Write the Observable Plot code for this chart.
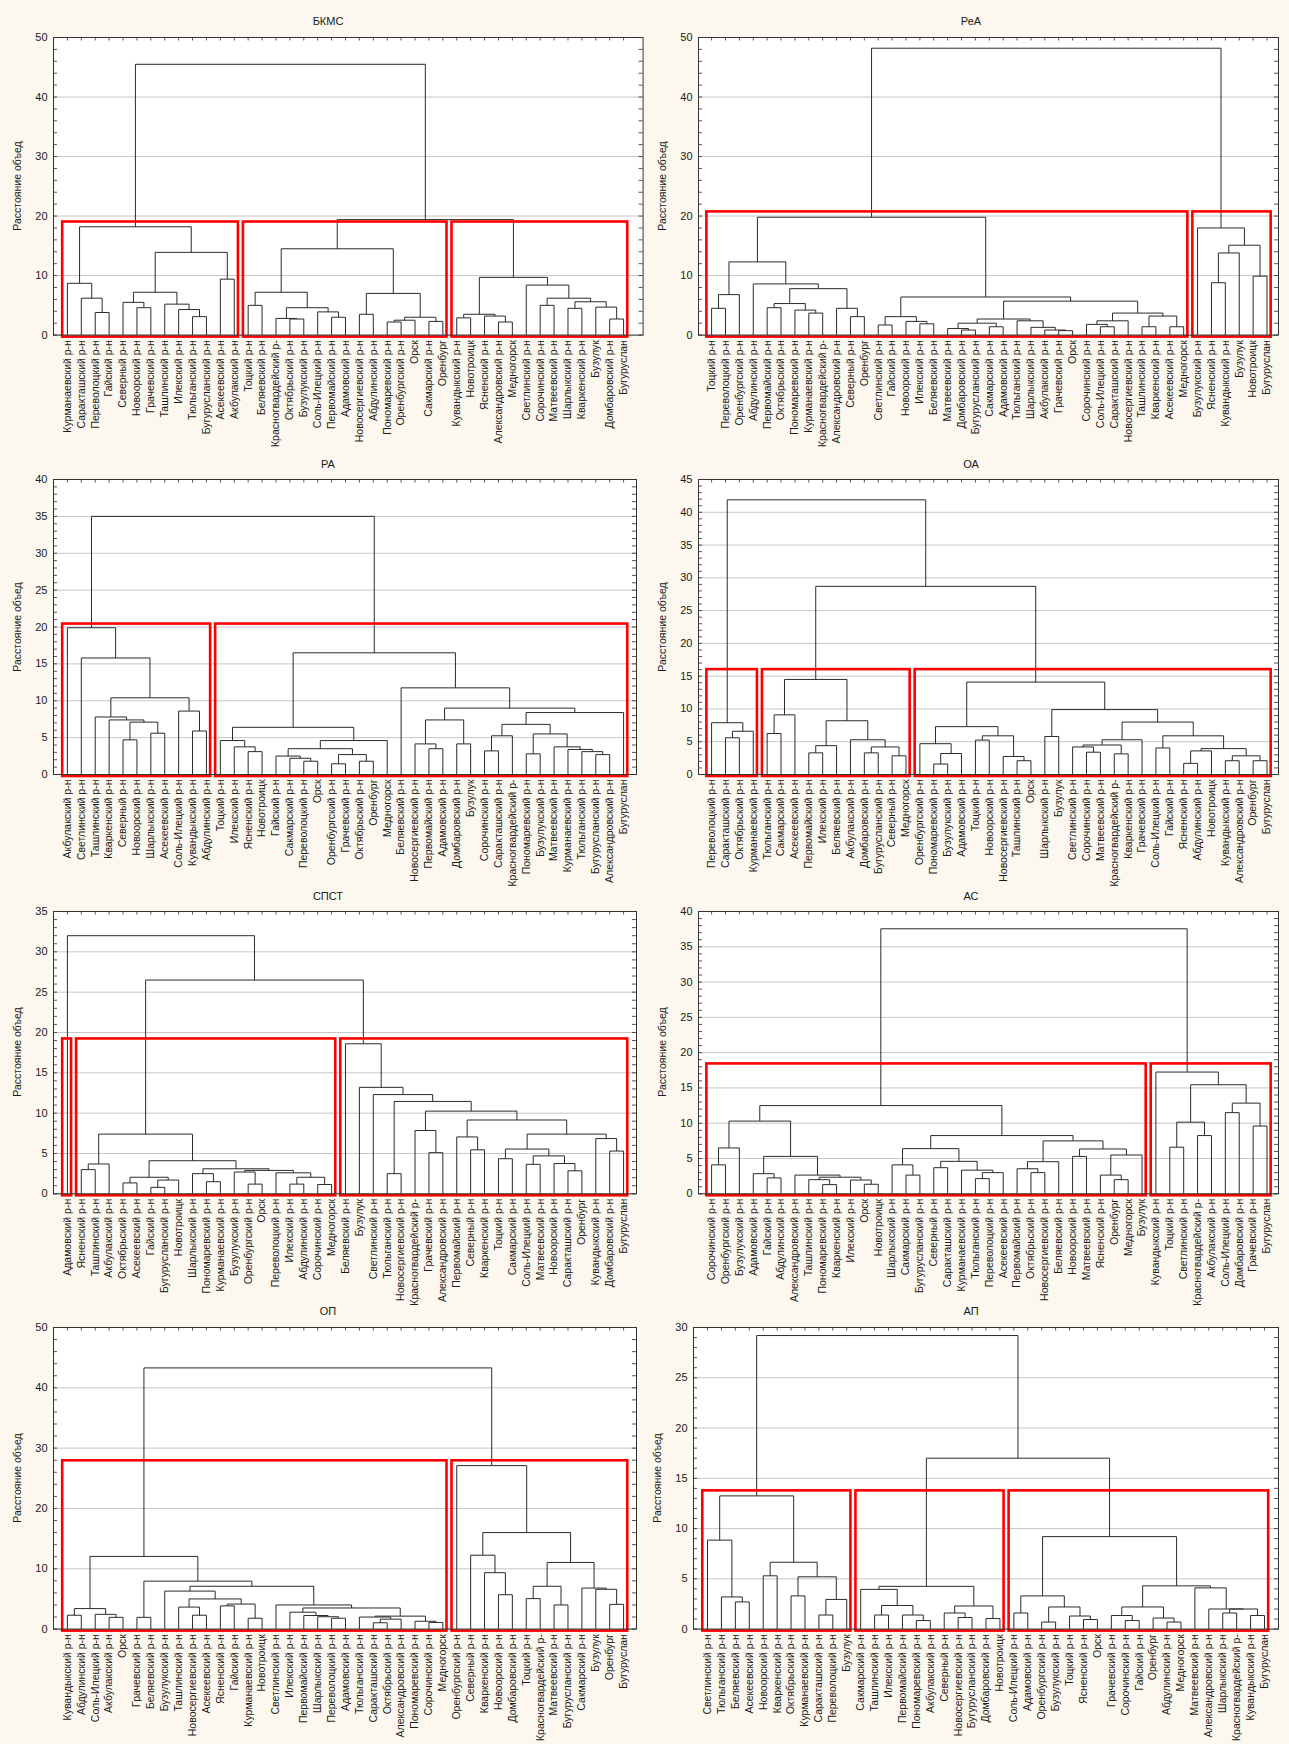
<!DOCTYPE html>
<html><head><meta charset="utf-8">
<script src="https://cdn.jsdelivr.net/npm/d3@7"></script>
<script src="https://cdn.jsdelivr.net/npm/@observablehq/plot@0.6"></script>
<style>
html,body{margin:0;padding:0;background:#fcf8ef;}
#page{position:relative;width:1289px;height:1744px;overflow:hidden;font-family:"Liberation Sans",Arial,sans-serif;color:#1a1a1a;}
.title{position:absolute;font-size:11px;transform:translate(-50%,-50%);white-space:nowrap;}
.ylab{position:absolute;font-size:10.5px;transform:translate(-50%,-50%) rotate(-90deg);white-space:nowrap;}
.panel{position:absolute;}
.panel svg{overflow:visible;}
</style></head><body><div id="page"></div>
<script>
// ---------------- DATA ----------------
const titles = ["БКМС","РеА","РА","ОА","СПСТ","АС","ОП","АП"];
const yMaxes = [50,50,40,45,35,40,50,30];
const ySteps = [10,10,5,5,5,5,10,5];
const yLabel = "Расстояние объед";

// leaf orders (left to right)
const order1 = ["Курманаевский р-н","Саракташский р-н","Переволоцкий р-н","Гайский р-н","Северный р-н","Новоорский р-н","Грачевский р-н","Ташлинский р-н","Илекский р-н","Тюльганский р-н","Бугурусланский р-н","Асекеевский р-н","Акбулакский р-н","Тоцкий р-н","Беляевский р-н","Красногвардейский р-","Октябрьский р-н","Бузулукский р-н","Соль-Илецкий р-н","Первомайский р-н","Адамовский р-н","Новосергиевский р-н","Абдулинский р-н","Пономаревский р-н","Оренбургский р-н","Орск","Сакмарский р-н","Оренбург","Кувандыкский р-н","Новотроицк","Ясненский р-н","Александровский р-н","Медногорск","Светлинский р-н","Сорочинский р-н","Матвеевский р-н","Шарлыкский р-н","Кваркенский р-н","Бузулук","Домбаровский р-н","Бугуруслан"];
const order2 = ["Тоцкий р-н","Переволоцкий р-н","Оренбургский р-н","Абдулинский р-н","Первомайский р-н","Октябрьский р-н","Пономаревский р-н","Курманаевский р-н","Красногвардейский р-","Александровский р-н","Северный р-н","Оренбург","Светлинский р-н","Гайский р-н","Новоорский р-н","Илекский р-н","Беляевский р-н","Матвеевский р-н","Домбаровский р-н","Бугурусланский р-н","Сакмарский р-н","Адамовский р-н","Тюльганский р-н","Шарлыкский р-н","Акбулакский р-н","Грачевский р-н","Орск","Сорочинский р-н","Соль-Илецкий р-н","Саракташский р-н","Новосергиевский р-н","Ташлинский р-н","Кваркенский р-н","Асекеевский р-н","Медногорск","Бузулукский р-н","Ясненский р-н","Кувандыкский р-н","Бузулук","Новотроицк","Бугуруслан"];
const order3 = ["Акбулакский р-н","Светлинский р-н","Ташлинский р-н","Кваркенский р-н","Северный р-н","Новоорский р-н","Шарлыкский р-н","Асекеевский р-н","Соль-Илецкий р-н","Кувандыкский р-н","Абдулинский р-н","Тоцкий р-н","Илекский р-н","Ясненский р-н","Новотроицк","Гайский р-н","Сакмарский р-н","Переволоцкий р-н","Орск","Оренбургский р-н","Грачевский р-н","Октябрьский р-н","Оренбург","Медногорск","Беляевский р-н","Новосергиевский р-н","Первомайский р-н","Адамовский р-н","Домбаровский р-н","Бузулук","Сорочинский р-н","Саракташский р-н","Красногвардейский р-","Пономаревский р-н","Бузулукский р-н","Матвеевский р-н","Курманаевский р-н","Тюльганский р-н","Бугурусланский р-н","Александровский р-н","Бугуруслан"];
const order4 = ["Переволоцкий р-н","Саракташский р-н","Октябрьский р-н","Курманаевский р-н","Тюльганский р-н","Сакмарский р-н","Асекеевский р-н","Первомайский р-н","Илекский р-н","Беляевский р-н","Акбулакский р-н","Домбаровский р-н","Бугурусланский р-н","Северный р-н","Медногорск","Оренбургский р-н","Пономаревский р-н","Бузулукский р-н","Адамовский р-н","Тоцкий р-н","Новоорский р-н","Новосергиевский р-н","Ташлинский р-н","Орск","Шарлыкский р-н","Бузулук","Светлинский р-н","Сорочинский р-н","Матвеевский р-н","Красногвардейский р-","Кваркенский р-н","Грачевский р-н","Соль-Илецкий р-н","Гайский р-н","Ясненский р-н","Абдулинский р-н","Новотроицк","Кувандыкский р-н","Александровский р-н","Оренбург","Бугуруслан"];
const order5 = ["Адамовский р-н","Ясненский р-н","Ташлинский р-н","Акбулакский р-н","Октябрьский р-н","Асекеевский р-н","Гайский р-н","Бугурусланский р-н","Новотроицк","Шарлыкский р-н","Пономаревский р-н","Курманаевский р-н","Бузулукский р-н","Оренбургский р-н","Орск","Переволоцкий р-н","Илекский р-н","Абдулинский р-н","Сорочинский р-н","Медногорск","Беляевский р-н","Бузулук","Светлинский р-н","Тюльганский р-н","Новосергиевский р-н","Красногвардейский р-","Грачевский р-н","Александровский р-н","Первомайский р-н","Северный р-н","Кваркенский р-н","Тоцкий р-н","Сакмарский р-н","Соль-Илецкий р-н","Матвеевский р-н","Новоорский р-н","Саракташский р-н","Оренбург","Кувандыкский р-н","Домбаровский р-н","Бугуруслан"];
const order6 = ["Сорочинский р-н","Оренбургский р-н","Бузулукский р-н","Адамовский р-н","Гайский р-н","Абдулинский р-н","Александровский р-н","Ташлинский р-н","Пономаревский р-н","Кваркенский р-н","Илекский р-н","Орск","Новотроицк","Шарлыкский р-н","Сакмарский р-н","Бугурусланский р-н","Северный р-н","Саракташский р-н","Курманаевский р-н","Тюльганский р-н","Переволоцкий р-н","Асекеевский р-н","Первомайский р-н","Октябрьский р-н","Новосергиевский р-н","Беляевский р-н","Новоорский р-н","Матвеевский р-н","Ясненский р-н","Оренбург","Медногорск","Бузулук","Кувандыкский р-н","Тоцкий р-н","Светлинский р-н","Красногвардейский р-","Акбулакский р-н","Соль-Илецкий р-н","Домбаровский р-н","Грачевский р-н","Бугуруслан"];
const order7 = ["Кувандыкский р-н","Абдулинский р-н","Соль-Илецкий р-н","Акбулакский р-н","Орск","Грачевский р-н","Беляевский р-н","Бузулукский р-н","Ташлинский р-н","Новосергиевский р-н","Асекеевский р-н","Ясненский р-н","Гайский р-н","Курманаевский р-н","Новотроицк","Светлинский р-н","Илекский р-н","Первомайский р-н","Шарлыкский р-н","Переволоцкий р-н","Адамовский р-н","Тюльганский р-н","Саракташский р-н","Октябрьский р-н","Александровский р-н","Пономаревский р-н","Сорочинский р-н","Медногорск","Оренбургский р-н","Северный р-н","Кваркенский р-н","Новоорский р-н","Домбаровский р-н","Тоцкий р-н","Красногвардейский р-","Матвеевский р-н","Бугурусланский р-н","Сакмарский р-н","Бузулук","Оренбург","Бугуруслан"];
const order8 = ["Светлинский р-н","Тюльганский р-н","Беляевский р-н","Асекеевский р-н","Новоорский р-н","Кваркенский р-н","Октябрьский р-н","Курманаевский р-н","Саракташский р-н","Переволоцкий р-н","Бузулук","Сакмарский р-н","Ташлинский р-н","Илекский р-н","Первомайский р-н","Пономаревский р-н","Акбулакский р-н","Северный р-н","Новосергиевский р-н","Бугурусланский р-н","Домбаровский р-н","Новотроицк","Соль-Илецкий р-н","Адамовский р-н","Оренбургский р-н","Бузулукский р-н","Тоцкий р-н","Ясненский р-н","Орск","Грачевский р-н","Сорочинский р-н","Гайский р-н","Оренбург","Абдулинский р-н","Медногорск","Матвеевский р-н","Александровский р-н","Шарлыкский р-н","Красногвардейский р-","Кувандыкский р-н","Бугуруслан"];

// trees: [linkage distance, left, right]; numbers are leaf positions in the order above
const tree1 = [45.5,
  [18.2, [8.7, 0, [6.2, 1, [3.8, 2, 3]]], [13.9, [7.2, [5.5, 4, [4.6, 5, 6]], [5.2, 7, [4.3, 8, [3.1, 9, 10]]]], [9.4, 11, 12]]],
  [19.4,
    [14.5, [7.2, [5.0, 13, 14], [4.6, [2.8, 15, [2.7, 16, 17]], [3.9, 18, [3.0, 19, 20]]]], [7.0, [3.5, 21, 22], [3.0, [2.5, [2.2, 23, 24], 25], [2.3, 26, 27]]]],
    [9.7, [3.5, [2.9, 28, 29], [3.2, 30, [2.2, 31, 32]]], [8.4, 33, [6.2, [5.0, 34, 35], [5.6, [4.5, 36, 37], [4.7, 38, [2.7, 39, 40]]]]]]]];
const tree2 = [48.2,
  [19.8,
    [12.3, [6.8, [4.5, 0, 1], 2], [8.6, 3, [7.8, [5.3, [4.6, 4, 5], [4.2, 6, [3.7, 7, 8]]], [4.5, 9, [3.1, 10, 11]]]]],
    [6.4, [3.1, [1.7, 12, 13], [2.3, 14, [1.9, 15, 16]]],
      [5.7, [2.7, [2.0, [1.1, 17, [0.85, 18, 19]], [1.4, 20, 21]], [2.4, 22, [1.3, 23, [0.85, 24, [0.75, 25, 26]]]]],
        [3.7, [2.4, [1.8, 27, [1.4, 28, 29]], 30], [3.2, [1.4, 31, 32], [1.4, 33, 34]]]]]],
  [18.0, 35, [15.1, [13.8, [8.8, 36, 37], 38], [9.9, 39, 40]]]];
const tree3 = [35.0,
  [19.9, 0, [15.8, 1, [10.4, [7.8, 2, [7.4, 3, [7.1, [4.7, 4, 5], [5.6, 6, 7]]]], [8.6, 8, [5.9, 9, 10]]]]],
  [16.5,
    [6.4, [4.6, 11, [3.75, 12, [3.1, 13, 14]]], [4.6, [3.5, [2.5, 15, [2.2, 16, [1.8, 17, 18]]], [2.7, [1.45, 19, 20], [1.8, 21, 22]]], 23]],
    [11.75, 24, [9.0, [7.4, [4.15, 25, [3.5, 26, 27]], [4.15, 28, 29]],
      [8.4, [6.8, [5.25, [3.2, 30, 31], 32], [5.5, [2.8, 33, 34], [3.75, 35, [3.4, 36, [3.1, 37, [2.7, 38, 39]]]]]], 40]]]]];
const tree4 = [41.9,
  [7.9, 0, [6.6, [5.6, 1, 2], 3]],
  [28.7,
    [14.5, [9.1, [6.25, 4, 5], 6], [8.2, [4.4, [3.3, 7, 8], 9], [5.3, 10, [4.2, [3.3, 11, 12], [2.85, 13, 14]]]]],
    [14.1,
      [7.3, [4.7, 15, [3.2, [1.6, 16, 17], 18]], [5.9, [5.25, 19, 20], [2.75, 21, [2.1, 22, 23]]]],
      [9.9, [5.8, 24, 25], [8.0, [5.3, [4.5, [4.2, 26, [3.4, 27, 28]], [3.15, 29, 30]], 31],
        [5.9, [4.05, 32, 33], [3.95, [3.6, [1.7, 34, 35], 36], [2.85, [2.1, 37, 38], [2.1, 39, 40]]]]]]]]];
const tree5 = [32.0, 0,
  [26.5,
    [7.4, [3.7, [3.0, 1, 2], 3], [4.1, [2.05, [1.35, 4, 5], [1.7, [0.8, 6, 7], 8]],
      [3.1, [2.5, 9, [1.5, 10, 11]], [2.9, [2.7, 12, [1.2, 13, 14]], [2.6, 15, [2.05, [1.2, 16, 17], [1.15, 18, 19]]]]]]],
    [18.6, 20, [13.2, 21, [12.3, 22, [11.45, [2.5, 23, 24],
      [10.25, [7.85, 25, [5.1, 26, 27]], [9.15, [7.05, 28, [5.45, 29, 30]],
        [7.4, [5.55, [4.35, 31, 32], [4.7, [3.65, 33, 34], [3.75, 35, [2.85, 36, 37]]]], [6.85, 38, [5.3, 39, 40]]]]]]]]]]];
const tree6 = [37.55,
  [12.5,
    [10.3, [6.5, [4.1, 0, 1], 2], [5.3, [2.85, 3, [2.25, 4, 5]], [2.65, 6, [2.35, [2.0, 7, [1.3, 8, 9]], [1.95, 10, [1.35, 11, 12]]]]]],
    [8.25,
      [6.4, [4.1, 13, [2.65, 14, 15]], [4.6, [3.7, 16, 17], [3.35, 18, [3.0, [2.15, 19, 20], 21]]]],
      [7.5, [4.55, [3.55, 22, [3.0, 23, 24]], 25], [6.35, [5.3, 26, 27], [5.5, [2.65, 28, [2.0, 29, 30]], 31]]]]],
  [17.25, 32, [15.45, [10.15, [6.6, 33, 34], [8.25, 35, 36]], [12.85, [11.5, 37, 38], [9.6, 39, 40]]]]];
const tree7 = [43.3,
  [12.05,
    [3.4, [2.3, 0, 1], [2.45, 2, [1.95, 3, 4]]],
    [7.95, [1.95, 5, 6],
      [7.1, [6.3, 7, [5.0, [3.65, 8, [2.3, 9, 10]], [4.15, [3.85, 11, 12], [1.8, 13, 14]]]],
        [4.0, 15, [3.5, [2.8, 16, [2.25, 17, [2.05, 18, [1.8, 19, 20]]]],
          [2.15, [2.0, 21, [1.65, [1.05, 22, 23], 24]], [1.3, 25, [1.1, 26, 27]]]]]]]],
  [27.1, 28, [16.0, [12.25, 29, [9.35, 30, [5.7, 31, 32]]], [11.05, [7.1, [5.05, 33, 34], [4.0, 35, 36]], [6.8, 37, [6.6, 38, [4.1, 39, 40]]]]]]];
const tree8 = [29.2,
  [13.25, [8.85, 0, [3.2, 1, [2.7, 2, 3]]], [6.65, [5.3, 4, 5], [5.2, [3.3, 6, 7], [2.95, [1.4, 8, 9], 10]]]],
  [17.0,
    [4.25, [3.95, 11, [2.35, [1.4, 12, 13], [1.4, 14, [0.85, 15, 16]]]], [2.3, [1.6, 17, [1.15, 18, 19]], [1.05, 20, 21]]],
    [9.2, [3.3, [1.6, 22, 23], [2.2, [0.7, 24, 25], [1.3, 26, [0.95, 27, 28]]]],
      [4.3, [2.2, [1.35, 29, [0.85, 30, 31]], [1.1, 32, [0.7, 33, 34]]], [4.1, 35, [2.0, 36, [2.0, [1.6, 37, 38], [1.35, 39, 40]]]]]]]];

// highlighted clusters: [first leaf, last leaf, cut distance]
const clusters1 = [[0,12,19.0],[13,27,19.0],[28,40,19.0]];
const clusters2 = [[0,34,20.7],[35,40,20.7]];
const clusters3 = [[0,10,20.4],[11,40,20.4]];
const clusters4 = [[0,3,16.0],[4,14,16.0],[15,40,16.0]];
const clusters5 = [[0,0,19.2],[1,19,19.2],[20,40,19.2]];
const clusters6 = [[0,31,18.4],[32,40,18.4]];
const clusters7 = [[0,27,27.9],[28,40,27.9]];
const clusters8 = [[0,10,13.75],[11,21,13.75],[22,40,13.75]];

const orders = [order1,order2,order3,order4,order5,order6,order7,order8];
const trees = [tree1,tree2,tree3,tree4,tree5,tree6,tree7,tree8];
const clusterSets = [clusters1,clusters2,clusters3,clusters4,clusters5,clusters6,clusters7,clusters8];

// ---------------- LAYOUT ----------------
const ROW_FT = [36.7, 479, 911, 1326.7];
const ROW_FB = [334.3, 774, 1193.3, 1628.3];
const ROW_TT = [20.7, 464, 896, 1311];
const COLS = [
  {left:0, width:645, fl:53, fr:636, l0:66.9, l40:623.1, tx:328, yl:16.5},
  {left:645, width:644, fl:698, fr:1278, l0:711.1, l40:1266.5, tx:971, yl:661.5}
];
const OVERRIDES = {0: {fr:642.6}, 7: {fl:693, l0:707, l40:1264, yl:657}};
const LINE = "#2a2a2a", GRID = "#c6c6c6", RED = "#ff0000";
const page = document.getElementById("page");

function segmentsOf(tree) {
  const segs = [];
  (function walk(n) {
    if (typeof n === "number") return {x: n, y: 0};
    const [h, a, b] = n;
    const A = walk(a), B = walk(b);
    segs.push({x1: A.x, y1: A.y, x2: A.x, y2: h});
    segs.push({x1: B.x, y1: B.y, x2: B.x, y2: h});
    segs.push({x1: A.x, y1: h, x2: B.x, y2: h});
    return {x: (A.x + B.x) / 2, y: h};
  })(tree);
  return segs;
}

titles.forEach((title, i) => {
  const row = Math.floor(i / 2), col = i % 2;
  const C = Object.assign({}, COLS[col], OVERRIDES[i] || {});
  const FT = ROW_FT[row], FB = ROW_FB[row];
  const plotH = FB - FT;
  const sp = (C.l40 - C.l0) / 40;
  const xd = [(C.fl - C.l0) / sp, (C.fr - C.l0) / sp];
  const yMax = yMaxes[i], step = ySteps[i];
  const yPx = yMax / plotH, xPx = 1 / sp;
  const majors = d3.range(0, yMax + 1e-9, step);
  const minors = d3.range(0, yMax + 1e-9, step === 10 ? 2 : 1);
  const order = orders[i];
  const segs = segmentsOf(trees[i]);
  const leaves = d3.range(order.length);
  const mt = 8, mb = 112;

  const svg = Plot.plot({
    width: C.width, height: mt + plotH + mb,
    marginLeft: C.fl - C.left, marginRight: C.left + C.width - C.fr,
    marginTop: mt, marginBottom: mb,
    x: {domain: xd}, y: {domain: [0, yMax]},
    style: {background: "transparent", fontFamily: "'Liberation Sans', Arial, sans-serif", color: "#1a1a1a", overflow: "visible"},
    marks: [
      Plot.frame({fill: "white", stroke: null}),
      Plot.gridY(majors, {stroke: GRID, strokeOpacity: 1, strokeWidth: 1}),
      Plot.ruleY(minors, {y: d => d, x1: xd[0], x2: xd[0] + 4 * xPx, stroke: LINE, strokeWidth: 0.8}),
      Plot.ruleY(minors, {y: d => d, x1: xd[1], x2: xd[1] - 4 * xPx, stroke: LINE, strokeWidth: 0.8}),
      Plot.ruleX(leaves, {x: d => d, y1: yMax, y2: yMax - 3.5 * yPx, stroke: LINE, strokeWidth: 0.8}),
      Plot.link(segs, {x1: "x1", y1: "y1", x2: "x2", y2: "y2", stroke: LINE, strokeWidth: 1}),
      Plot.rect(clusterSets[i], {x1: d => d[0] - 0.34, x2: d => d[1] + 0.3, y1: -2 * yPx, y2: d => d[2],
        fill: "none", stroke: RED, strokeWidth: 2.6}),
      Plot.frame({stroke: "#333", strokeWidth: 1}),
      Plot.axisY(majors, {tickSize: 0, tickPadding: 6, fontSize: 11, label: null}),
      Plot.axisX(leaves, {tickFormat: d => order[d], tickRotate: -90, tickSize: 0, tickPadding: 5, fontSize: 10.5, label: null})
    ]
  });
  const holder = document.createElement("div");
  holder.className = "panel";
  holder.style.left = C.left + "px";
  holder.style.top = (FT - mt) + "px";
  holder.style.width = C.width + "px";
  holder.appendChild(svg);
  page.appendChild(holder);

  const t = document.createElement("div");
  t.className = "title"; t.textContent = title;
  t.style.left = C.tx + "px"; t.style.top = ROW_TT[row] + "px";
  page.appendChild(t);

  const yl = document.createElement("div");
  yl.className = "ylab"; yl.textContent = yLabel;
  yl.style.left = C.yl + "px"; yl.style.top = ((FT + FB) / 2) + "px";
  page.appendChild(yl);
});
</script></body></html>
